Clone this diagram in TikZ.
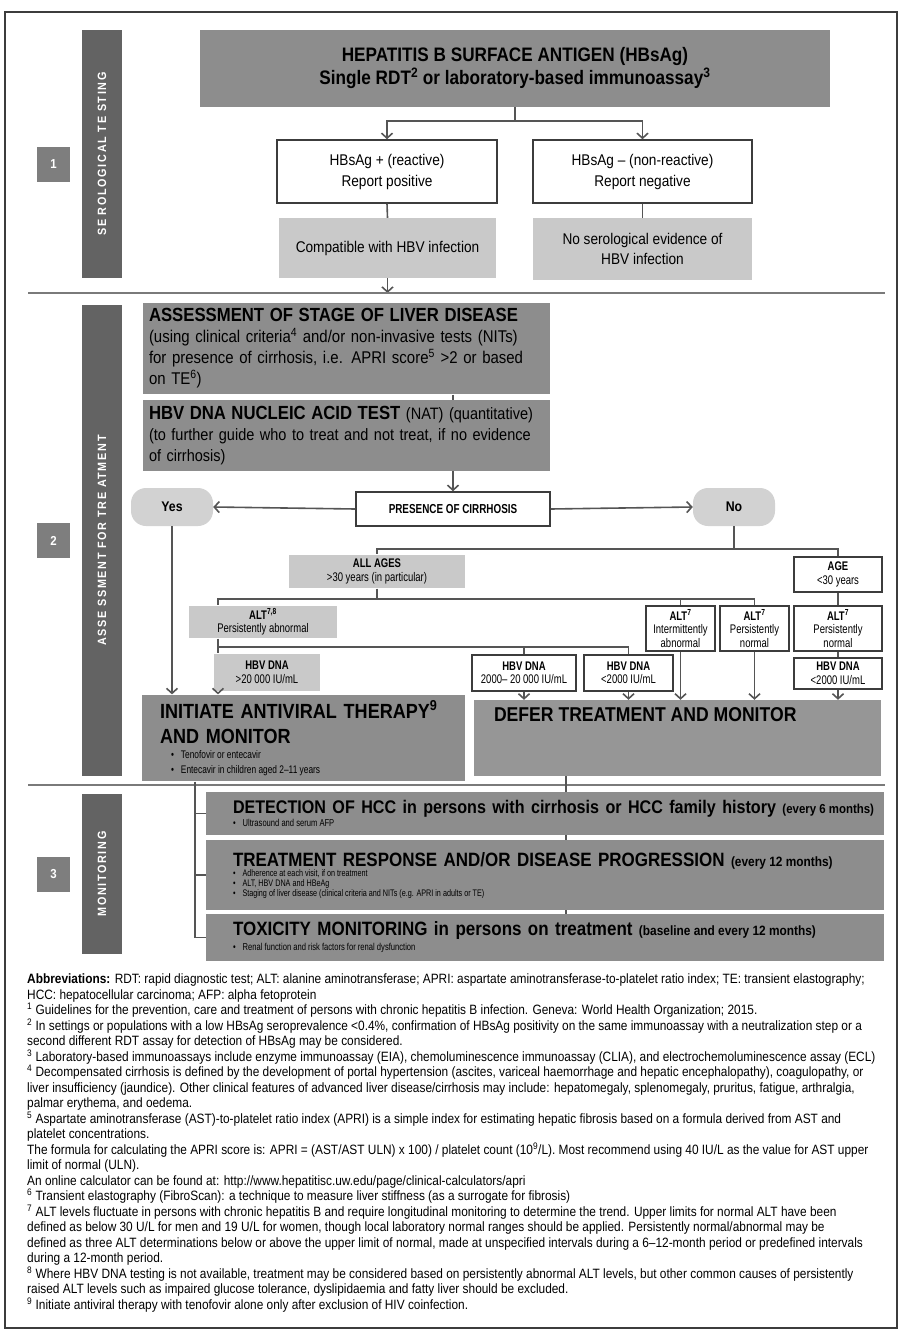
\documentclass[tikz,border=0pt]{standalone}
\usepackage{fontspec}
\setmainfont{Liberation Sans}[FakeStretch=0.88]
\newfontfamily\etroit{Liberation Sans}[FakeStretch=0.76]
\newfontfamily\espace{Liberation Sans}[FakeStretch=0.9,LetterSpace=14]
\usetikzlibrary{arrows.meta}

\definecolor{cFonce}{HTML}{636363}
\definecolor{cNum}{HTML}{7E7E7E}
\definecolor{cBoite}{HTML}{8D8D8D}
\definecolor{cBoiteB}{HTML}{969696}
\definecolor{cClair}{HTML}{C9C9C9}
\definecolor{cPale}{HTML}{D2D2D2}
\definecolor{cBord}{HTML}{3C3C3C}
\definecolor{cTrait}{HTML}{555555}
\definecolor{cSep}{HTML}{7A7A7A}

\newcommand{\puce}{\textbullet\hspace{7pt}}
\newcommand{\espnormal}{\spaceskip=0pt\xspaceskip=0pt\relax}

\begin{document}
\begin{tikzpicture}[x=1pt,y=-1pt]
% page et cadre
\useasboundingbox (0,0) rectangle (903,1332);
\draw[line width=1.4pt,color=cBord] (5,12) rectangle (897,1328);
% styles des boites
\tikzstyle{barre}=[rectangle,fill=cFonce,text=white,rotate=90,minimum height=40pt,font=\espace\bfseries\fontsize{12}{12}\selectfont]
\tikzstyle{num}=[rectangle,fill=cNum,text=white,minimum width=33pt,minimum height=35pt,font=\bfseries\fontsize{13}{13}\selectfont]
\tikzstyle{gris}=[rectangle,fill=cBoite,align=left,inner sep=6pt]
\tikzstyle{clair}=[rectangle,fill=cClair,align=center,font=\fontsize{15.5}{20}\selectfont]
\tikzstyle{blanc}=[rectangle,draw=cBord,line width=1.5pt,fill=white,align=center,font=\fontsize{15.5}{21}\selectfont]
\tikzstyle{petit}=[rectangle,draw=cBord,line width=1.5pt,fill=white,align=center,inner sep=1pt,font=\etroit\fontsize{12.5}{13.5}\selectfont]
\tikzstyle{petitclair}=[petit,draw=none,fill=cClair]
\tikzstyle{pilule}=[rectangle,rounded corners=15pt,fill=cPale,minimum width=82pt,minimum height=38pt,font=\bfseries\fontsize{14}{14}\selectfont]
% styles des liens
\tikzstyle{lien}=[line width=1.6pt,color=cTrait]
\tikzstyle{fleche}=[lien,-{Straight Barb[length=5pt,width=11pt]}]
\tikzstyle{separ}=[line width=2.6pt,color=cSep]

% bandes laterales et numeros
\node[barre,minimum width=248pt] (S1) at (102,154) {SE ROLOGICAL TE STING};
\node[barre,minimum width=471pt] (S2) at (102,540.5) {ASSE SSMENT FOR TRE ATMENT};
\node[barre,minimum width=160pt] (S3) at (102,874) {MONITORING};
\node[num] (N1) at (53.5,164.5) {1};
\node[num] (N2) at (53.5,540.5) {2};
\node[num] (N3) at (53.5,874) {3};

% partie 1 : test serologique
\node[gris,align=center,minimum width=630pt,minimum height=77pt,font=\bfseries\fontsize{19.5}{23}\selectfont] (HBS) at (515,68.5) {HEPATITIS B SURFACE ANTIGEN (HBsAg)\\Single RDT\textsuperscript{2} or laboratory-based immunoassay\textsuperscript{3}};
\node[blanc,minimum width=220pt,minimum height=63pt] (POS) at (387,171.5) {HBsAg + (reactive)\\Report positive};
\node[blanc,minimum width=219pt,minimum height=63pt] (NEG) at (642.5,171.5) {HBsAg – (non-reactive)\\Report negative};
\node[clair,minimum width=217pt,minimum height=60pt] (CPOS) at (387.5,248) {Compatible with HBV infection};
\node[clair,minimum width=219pt,minimum height=62pt] (CNEG) at (642.5,249) {No serological evidence of\\HBV infection};
\coordinate (SA) at (28,293);
\coordinate (SB) at (885,293);
\draw[fleche] (HBS.south) -- ++(0,14) -| (POS.north);
\draw[fleche] (HBS.south) -- ++(0,14) -| (NEG.north);
\draw[lien] (POS.south) -- (CPOS.north);
\draw[lien] (NEG.south) -- (CNEG.north);
\draw[fleche] (CPOS.south) -- (CPOS.south |- SA);
\draw[separ] (SA) -- (SB);

% partie 2 : evaluation
\node[gris,text width=395pt,minimum height=87pt,font=\fontsize{17}{21}\selectfont] (ASS) at (346.5,348.5) {{\bfseries\fontsize{19}{21}\selectfont ASSESSMENT OF STAGE OF LIVER DISEASE}\\(using clinical criteria\textsuperscript{4} and/or non-invasive tests (NITs)\\for presence of cirrhosis, i.e. APRI score\textsuperscript{5} >2 or based\\on TE\textsuperscript{6})};
\node[gris,text width=395pt,minimum height=71pt,font=\fontsize{16.5}{21}\selectfont] (NAT) at (346.5,435.5) {{\bfseries\fontsize{19}{21}\selectfont HBV DNA NUCLEIC ACID TEST} (NAT) (quantitative)\\(to further guide who to treat and not treat, if no evidence\\of cirrhosis)};
\node[blanc,minimum width=194pt,minimum height=34pt,font=\etroit\bfseries\fontsize{13}{13}\selectfont] (PC) at (453,509) {PRESENCE OF CIRRHOSIS};
\node[pilule] (YES) at (172,507) {Yes};
\node[pilule] (NO) at (734,507) {No};
\node[petitclair,minimum width=176pt,minimum height=33pt] (AA) at (377,571.5) {\textbf{ALL AGES}\\>30 years (in particular)};
\node[petit,minimum width=88pt,minimum height=35pt] (AGE) at (838,574.5) {\textbf{AGE}\\<30 years};
\node[petitclair,minimum width=148pt,minimum height=32pt] (ALTA) at (263,622) {\textbf{ALT\textsuperscript{7,8}}\\Persistently abnormal};
\node[petit,minimum width=69pt,minimum height=45pt] (ALTI) at (680.5,628.5) {\textbf{ALT\textsuperscript{7}}\\Intermittently\\abnormal};
\node[petit,minimum width=69pt,minimum height=45pt] (ALTN) at (754.5,628.5) {\textbf{ALT\textsuperscript{7}}\\Persistently\\normal};
\node[petit,minimum width=88pt,minimum height=45pt] (ALTY) at (838,628.5) {\textbf{ALT\textsuperscript{7}}\\Persistently\\normal};
\node[petitclair,minimum width=106pt,minimum height=37pt] (DNAH) at (267,672.5) {\textbf{HBV DNA}\\>20 000 IU/mL};
\node[petit,minimum width=104pt,minimum height=36pt] (DNAM) at (524,673) {\textbf{HBV DNA}\\2000– 20 000 IU/mL};
\node[petit,minimum width=89pt,minimum height=36pt] (DNAL) at (628.5,673) {\textbf{HBV DNA}\\<2000 IU/mL};
\node[petit,minimum width=88pt,minimum height=31pt] (DNAY) at (838,673.5) {\textbf{HBV DNA}\\<2000 IU/mL};
\node[gris,inner xsep=18pt,text width=287pt,minimum height=76pt,font=\bfseries\fontsize{20.5}{25}\selectfont] (INIT) at (303.5,738) {\mbox{INITIATE ANTIVIRAL THERAPY\textsuperscript{9}}\\AND MONITOR\par
{\mdseries\etroit\fontsize{11}{15}\selectfont\espnormal \hspace*{11pt}\puce Tenofovir or entecavir\\\hspace*{11pt}\puce Entecavir in children aged 2–11 years\par}};
\node[gris,fill=cBoiteB,inner sep=0pt,minimum width=407pt,minimum height=76pt] (DEF) at (677.5,738) {\parbox[c][76pt][t]{367pt}{\bfseries\fontsize{20}{25}\selectfont\rule{0pt}{21pt}DEFER TREATMENT AND MONITOR}};
\coordinate (XG) at (218,0);
\coordinate (SC) at (28,785);
\coordinate (SD) at (885,785);
\draw[lien] (ASS.south -| PC.north) -- (NAT.north -| PC.north);
\draw[fleche] (NAT.south -| PC.north) -- (PC.north);
\draw[fleche] (PC.west) -- (YES.east);
\draw[fleche] (PC.east) -- (NO.west);
\draw[fleche] (YES.south) -- (YES.south |- INIT.north);
\draw[lien] (NO.south) -- ++(0,23) -| (AA.north);
\draw[lien] (NO.south) -- ++(0,23) -| (AGE.north);
\draw[lien] (AA.south) -- ++(0,10) -| (ALTA.north -| XG);
\draw[lien] (AA.south) -- ++(0,10) -| (ALTI.north);
\draw[lien] (AA.south) -- ++(0,10) -| (ALTN.north);
\draw[lien] (ALTA.south -| XG) -- (DNAH.north -| XG);
\draw[lien] (ALTA.south -| XG) -- ++(0,8) -| (DNAM.north);
\draw[lien] (ALTA.south -| XG) -- ++(0,8) -| (DNAL.north);
\draw[lien] (AGE.south) -- (ALTY.north);
\draw[lien] (ALTY.south) -- (DNAY.north);
\draw[fleche] (DNAH.south -| XG) -- (INIT.north -| XG);
\draw[fleche] (DNAM.south) -- (DNAM.south |- DEF.north);
\draw[fleche] (DNAL.south) -- (DNAL.south |- DEF.north);
\draw[fleche] (ALTI.south) -- (ALTI.south |- DEF.north);
\draw[fleche] (ALTN.south) -- (ALTN.south |- DEF.north);
\draw[fleche] (DNAY.south) -- (DNAY.south |- DEF.north);
\draw[separ] (SC) -- (SD);

% partie 3 : suivi
\tikzstyle{suivi}=[gris,inner xsep=27pt,text width=624pt,font=\bfseries\fontsize{19.3}{20}\selectfont]
\node[suivi,minimum height=43pt] (HCC) at (545,813.5) {\mbox{\fontsize{18.3}{20}\selectfont DETECTION OF HCC in persons with cirrhosis or HCC family history {\fontsize{13}{13}\selectfont\espnormal (every 6 months)}}\par
{\mdseries\etroit\fontsize{10}{13}\selectfont\espnormal \puce Ultrasound and serum AFP\par}};
\node[suivi,minimum height=70pt] (TRP) at (545,875) {\mbox{TREATMENT RESPONSE AND/OR DISEASE PROGRESSION {\fontsize{13.5}{13.5}\selectfont\espnormal (every 12 months)}}\par
{\mdseries\etroit\fontsize{9.5}{10}\selectfont\espnormal \puce Adherence at each visit, if on treatment\\\puce ALT, HBV DNA and HBeAg\\\puce Staging of liver disease (clinical criteria and NITs (e.g. APRI in adults or TE)\par}};
\node[suivi,minimum height=47pt] (TOX) at (545,937.5) {\mbox{TOXICITY MONITORING in persons on treatment {\fontsize{13.5}{13.5}\selectfont\espnormal (baseline and every 12 months)}}\par
{\mdseries\etroit\fontsize{10}{15}\selectfont\espnormal \puce Renal function and risk factors for renal dysfunction\par}};
\coordinate (XM) at (195,0);
\coordinate (XD) at (566,0);
\draw[lien] (INIT.south -| XM) |- (TOX.west);
\draw[lien] (XM |- HCC.west) -- (HCC.west);
\draw[lien] (XM |- TRP.west) -- (TRP.west);
\draw[lien] (DEF.south -| XD) -- (HCC.north -| XD);
\draw[lien] (HCC.south -| XD) -- (TRP.north -| XD);
\draw[lien] (TRP.south -| XD) -- (TOX.north -| XD);

% notes
\node[anchor=north west,inner sep=0pt,align=left,font=\fontsize{13.5}{15.5}\selectfont] (NOTES) at (27,974) {\textbf{Abbreviations:} RDT: rapid diagnostic test; ALT: alanine aminotransferase; APRI: aspartate aminotransferase-to-platelet ratio index; TE: transient elastography;\\
HCC: hepatocellular carcinoma; AFP: alpha fetoprotein\\
\textsuperscript{1} Guidelines for the prevention, care and treatment of persons with chronic hepatitis B infection. Geneva: World Health Organization; 2015.\\
\textsuperscript{2} In settings or populations with a low HBsAg seroprevalence <0.4\%, confirmation of HBsAg positivity on the same immunoassay with a neutralization step or a\\
second different RDT assay for detection of HBsAg may be considered.\\
\textsuperscript{3} Laboratory-based immunoassays include enzyme immunoassay (EIA), chemoluminescence immunoassay (CLIA), and electrochemoluminescence assay (ECL)\\
\textsuperscript{4} Decompensated cirrhosis is defined by the development of portal hypertension (ascites, variceal haemorrhage and hepatic encephalopathy), coagulopathy, or\\
liver insufficiency (jaundice). Other clinical features of advanced liver disease/cirrhosis may include: hepatomegaly, splenomegaly, pruritus, fatigue, arthralgia,\\
palmar erythema, and oedema.\\
\textsuperscript{5} Aspartate aminotransferase (AST)-to-platelet ratio index (APRI) is a simple index for estimating hepatic fibrosis based on a formula derived from AST and\\
platelet concentrations.\\
The formula for calculating the APRI score is: APRI = (AST/AST ULN) x 100) / platelet count (10\textsuperscript{9}/L). Most recommend using 40 IU/L as the value for AST upper\\
limit of normal (ULN).\\
An online calculator can be found at: http://www.hepatitisc.uw.edu/page/clinical-calculators/apri\\
\textsuperscript{6} Transient elastography (FibroScan): a technique to measure liver stiffness (as a surrogate for fibrosis)\\
\textsuperscript{7} ALT levels fluctuate in persons with chronic hepatitis B and require longitudinal monitoring to determine the trend. Upper limits for normal ALT have been\\
defined as below 30 U/L for men and 19 U/L for women, though local laboratory normal ranges should be applied. Persistently normal/abnormal may be\\
defined as three ALT determinations below or above the upper limit of normal, made at unspecified intervals during a 6–12-month period or predefined intervals\\
during a 12-month period.\\
\textsuperscript{8} Where HBV DNA testing is not available, treatment may be considered based on persistently abnormal ALT levels, but other common causes of persistently\\
raised ALT levels such as impaired glucose tolerance, dyslipidaemia and fatty liver should be excluded.\\
\textsuperscript{9} Initiate antiviral therapy with tenofovir alone only after exclusion of HIV coinfection.};
\end{tikzpicture}
\end{document}
